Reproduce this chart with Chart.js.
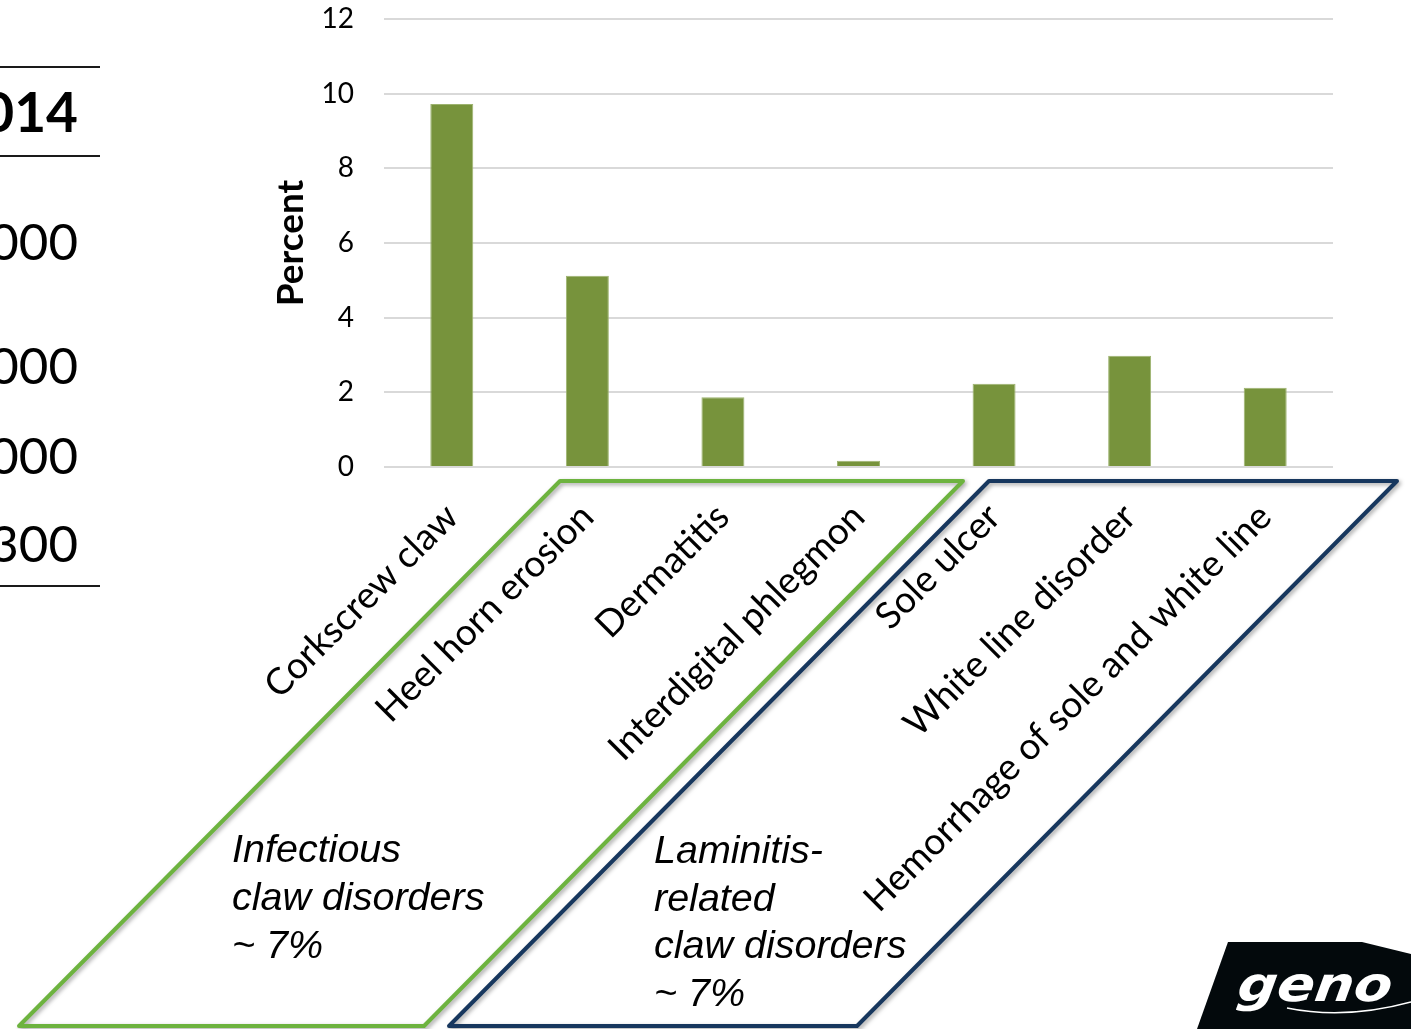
<!DOCTYPE html>
<html>
<head>
<meta charset="utf-8">
<title>Claw disorders</title>
<script src="https://cdn.jsdelivr.net/npm/chart.js@4.4.1/dist/chart.umd.min.js"></script>
<style>
  html, body { margin: 0; padding: 0; background: #ffffff; }
  #wrap { width: 1411px; height: 1029px; position: relative; overflow: hidden; }
</style>
</head>
<body>
<div id="wrap"><canvas id="c" width="1411" height="1029"></canvas></div>
<script>
// Claw disorder categories and their prevalence (percent of cows)
const categories = [
  'Corkscrew claw',
  'Heel horn erosion',
  'Dermatitis',
  'Interdigital phlegmon',
  'Sole ulcer',
  'White line disorder',
  'Hemorrhage of sole and white line'
];
const percentValues = [9.72, 5.12, 1.87, 0.17, 2.23, 2.98, 2.12];

// Value axis range
const yMin = 0;
const yMax = 12;
const yStep = 2;

// Group captions shown inside the framed areas
const infectiousCaption = ['Infectious', 'claw disorders', '~ 7%'];
const laminitisCaption = ['Laminitis-', 'related', 'claw disorders', '~ 7%'];

// Right-hand column of the neighbouring table (cut off at the slide edge)
const tableHeader = '014';
const tableValues = ['000', '000', '000', '300'];

const BAR_GREEN = '#77933C';
const FRAME_GREEN = '#6DB33F';
const FRAME_BLUE = '#17375E';

// Slide decorations: table fragment, group frames, captions and logo
const slideDecor = {
  id: 'slideDecor',
  afterDraw(chart) {
    const ctx = chart.ctx;
    ctx.save();

    // table fragment at the left edge
    ctx.strokeStyle = '#1a1a1a';
    ctx.lineWidth = 2;
    [67, 156, 586].forEach(y => {
      ctx.beginPath();
      ctx.moveTo(0, y);
      ctx.lineTo(100, y);
      ctx.stroke();
    });
    ctx.fillStyle = '#000';
    ctx.textAlign = 'right';
    ctx.textBaseline = 'alphabetic';
    ctx.font = 'bold 55px Lato';
    ctx.fillText(tableHeader, 78, 132);
    ctx.font = '51px Lato';
    const rowBaselines = [260, 384, 474, 562];
    tableValues.forEach((t, i) => ctx.fillText(t, 78, rowBaselines[i]));

    // group frames (parallelograms with a soft drop shadow)
    const frame = (pts, color) => {
      ctx.save();
      ctx.shadowColor = 'rgba(0,0,0,0.35)';
      ctx.shadowBlur = 4;
      ctx.shadowOffsetX = 2;
      ctx.shadowOffsetY = 2;
      ctx.strokeStyle = color;
      ctx.lineWidth = 4;
      ctx.lineJoin = 'round';
      ctx.beginPath();
      ctx.moveTo(pts[0][0], pts[0][1]);
      for (let i = 1; i < pts.length; i++) ctx.lineTo(pts[i][0], pts[i][1]);
      ctx.closePath();
      ctx.stroke();
      ctx.restore();
    };
    frame([[560, 481], [963, 481], [424, 1026], [19, 1026]], FRAME_GREEN);
    frame([[989, 481], [1397, 481], [857, 1026], [449, 1026]], FRAME_BLUE);

    // captions
    ctx.fillStyle = '#000';
    ctx.textAlign = 'left';
    ctx.font = 'italic 39.5px "Liberation Sans", Arial, sans-serif';
    infectiousCaption.forEach((t, i) => ctx.fillText(t, 232, 862 + i * 48));
    laminitisCaption.forEach((t, i) => ctx.fillText(t, 654, 863 + i * 47.5));

    // logo block in the lower right corner
    ctx.fillStyle = '#03090c';
    ctx.beginPath();
    ctx.moveTo(1228, 942);
    ctx.lineTo(1362, 942);
    ctx.lineTo(1411, 954);
    ctx.lineTo(1411, 1029);
    ctx.lineTo(1197, 1029);
    ctx.closePath();
    ctx.fill();
    ctx.save();
    ctx.translate(1236, 1001);
    ctx.transform(1.15, 0, -0.14, 1, 0, 0);
    ctx.fillStyle = '#ffffff';
    ctx.font = 'bold oblique 48px "DejaVu Sans", sans-serif';
    ctx.fillText('geno', 0, 0);
    ctx.restore();
    ctx.strokeStyle = '#ffffff';
    ctx.lineWidth = 1.5;
    ctx.beginPath();
    ctx.moveTo(1287, 1008);
    ctx.quadraticCurveTo(1345, 1020, 1411, 1002);
    ctx.stroke();

    ctx.restore();
  }
};

new Chart(document.getElementById('c'), {
  type: 'bar',
  data: {
    labels: categories,
    datasets: [{
      label: 'Percent',
      data: percentValues,
      backgroundColor: BAR_GREEN,
      borderColor: '#9DB36F',
      borderWidth: 1,
      borderSkipped: 'bottom',
      categoryPercentage: 1.0,
      barPercentage: 0.317
    }]
  },
  options: {
    responsive: false,
    animation: false,
    devicePixelRatio: 1,
    layout: { padding: { left: 269, right: 78, top: 19, bottom: 0 } },
    plugins: {
      legend: { display: false },
      tooltip: { enabled: false }
    },
    scales: {
      x: {
        grid: { display: false, drawTicks: false },
        border: { display: false },
        ticks: {
          autoSkip: false,
          maxRotation: 45,
          minRotation: 45,
          padding: 28,
          color: '#000',
          font: { family: 'Lato', size: 37 }
        },
        afterFit(scale) { scale.height = 1029 - 467; }
      },
      y: {
        min: yMin,
        max: yMax,
        grid: {
          color: '#D9D9D9',
          lineWidth: 2,
          drawTicks: true,
          tickLength: 30,
          tickColor: 'rgba(0,0,0,0)'
        },
        border: { display: false },
        ticks: {
          stepSize: yStep,
          padding: 0,
          color: '#000',
          font: { family: 'Lato', size: 28 }
        },
        title: {
          display: true,
          text: 'Percent',
          color: '#000',
          padding: { top: 0, bottom: 0 },
          font: { family: 'Lato', size: 37, weight: 'bold' }
        },
        afterFit(scale) { scale.width = 384 - 269; }
      }
    }
  },
  plugins: [slideDecor]
});
</script>
</body>
</html>
